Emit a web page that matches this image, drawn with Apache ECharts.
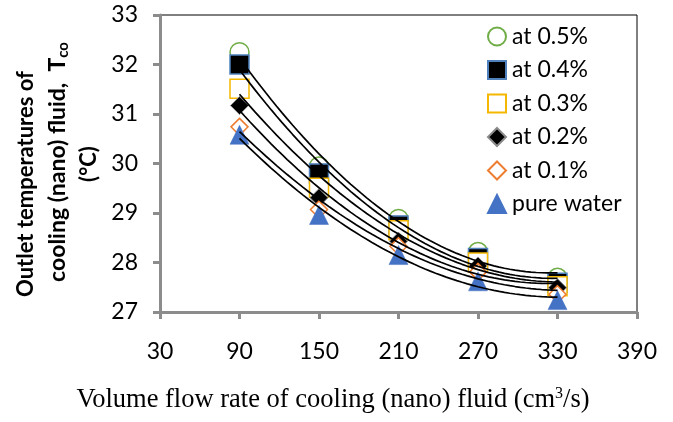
<!DOCTYPE html>
<html>
<head>
<meta charset="utf-8">
<script src="https://cdn.jsdelivr.net/npm/echarts@6/dist/echarts.min.js"></script>
<style>
  html, body { margin: 0; padding: 0; background: #fff; }
  #chart { width: 673px; height: 422px; }
</style>
</head>
<body>
<div id="chart"></div>
<script>
// Volume flow rates (cm3/s)
const flowRates = [90, 150, 210, 270, 330];

// Outlet temperature of the cooling fluid (°C) per concentration
const t05 = [32.25, 29.94, 28.88, 28.21, 27.69];
const t04 = [32.00, 29.80, 28.75, 28.09, 27.59];
const t03 = [31.51, 29.51, 28.65, 28.00, 27.52];
const t02 = [31.17, 29.31, 28.43, 27.93, 27.49];
const t01 = [30.74, 29.07, 28.33, 27.81, 27.36];
const tWater = [30.58, 28.96, 28.15, 27.62, 27.24];

const seriesNames = ['at 0.5%', 'at 0.4%', 'at 0.3%', 'at 0.2%', 'at 0.1%', 'pure water'];
const xTicks = [30, 90, 150, 210, 270, 330, 390];
const yTicks = [27, 28, 29, 30, 31, 32, 33];

const FONT = 'Lato';

// Second-order polynomial least-squares fit, sampled along the data range
function quadTrend(xs, ys, steps) {
  let n = xs.length, sx = 0, sx2 = 0, sx3 = 0, sx4 = 0, sy = 0, sxy = 0, sx2y = 0;
  for (let i = 0; i < n; i++) {
    const x = xs[i], y = ys[i];
    sx += x; sx2 += x * x; sx3 += x * x * x; sx4 += x * x * x * x;
    sy += y; sxy += x * y; sx2y += x * x * y;
  }
  // Solve normal equations with Cramer's rule
  const M = [[n, sx, sx2], [sx, sx2, sx3], [sx2, sx3, sx4]];
  const B = [sy, sxy, sx2y];
  const det = m => m[0][0] * (m[1][1] * m[2][2] - m[1][2] * m[2][1])
    - m[0][1] * (m[1][0] * m[2][2] - m[1][2] * m[2][0])
    + m[0][2] * (m[1][0] * m[2][1] - m[1][1] * m[2][0]);
  const D = det(M);
  const coef = [0, 1, 2].map(c => {
    const m = M.map((row, r) => row.map((v, k) => (k === c ? B[r] : v)));
    return det(m) / D;
  });
  const x0 = xs[0], x1 = xs[xs.length - 1];
  const out = [];
  for (let i = 0; i <= steps; i++) {
    const x = x0 + (x1 - x0) * i / steps;
    out.push([x, coef[0] + coef[1] * x + coef[2] * x * x]);
  }
  return out;
}

const dataSets = [t05, t04, t03, t02, t01, tWater];
const markerStyles = [
  { symbol: 'circle', size: 19, itemStyle: { color: '#ffffff', borderColor: '#70AD47', borderWidth: 1.5 } },
  { symbol: 'rect', size: 19, itemStyle: { color: '#000000', borderColor: '#4F81BD', borderWidth: 1.5 } },
  { symbol: 'rect', size: 19, itemStyle: { color: '#ffffff', borderColor: '#F5B800', borderWidth: 1.5 } },
  { symbol: 'diamond', size: 18, itemStyle: { color: '#000000', borderColor: '#8a8a8a', borderWidth: 1 } },
  { symbol: 'diamond', size: 17, itemStyle: { color: '#ffffff', borderColor: '#ED7D31', borderWidth: 1.5 } },
  { symbol: 'triangle', size: 19, itemStyle: { color: '#4472C4', borderColor: '#4472C4', borderWidth: 0.5 } }
];

const series = [];
dataSets.forEach((ys, i) => {
  const st = markerStyles[i];
  series.push({
    name: seriesNames[i],
    type: 'scatter',
    symbol: st.symbol,
    symbolSize: st.size,
    itemStyle: Object.assign({ opacity: 1 }, st.itemStyle),
    z: 2 + i,
    data: flowRates.map((x, k) => [x, ys[k]])
  });
});
dataSets.forEach((ys, i) => {
  series.push({
    name: 'trend ' + i,
    type: 'line',
    showSymbol: false,
    silent: true,
    smooth: false,
    z: 10,
    lineStyle: { color: '#000000', width: 1.7 },
    data: quadTrend(flowRates, ys, 60)
  });
});

const chart = echarts.init(document.getElementById('chart'), null, { renderer: 'canvas' });
chart.setOption({
  animation: false,
  backgroundColor: '#ffffff',
  grid: {
    left: 160, right: 36, top: 15, bottom: 110,
    show: true, borderColor: '#000000', borderWidth: 1, backgroundColor: 'transparent'
  },
  xAxis: {
    type: 'value',
    min: xTicks[0], max: xTicks[xTicks.length - 1], interval: 60,
    axisLine: { show: true, onZero: false, lineStyle: { color: '#8c8c8c', width: 3 } },
    axisTick: { show: true, length: 7, lineStyle: { color: '#8c8c8c', width: 3 } },
    splitLine: { show: false },
    axisLabel: { color: '#000', fontFamily: FONT, fontSize: 23, margin: 28 }
  },
  yAxis: {
    type: 'value',
    min: yTicks[0], max: yTicks[yTicks.length - 1], interval: 1,
    axisLine: { show: true, onZero: false, lineStyle: { color: '#8c8c8c', width: 3 } },
    axisTick: { show: true, length: 7, lineStyle: { color: '#8c8c8c', width: 3 } },
    splitLine: { show: false },
    axisLabel: { color: '#000', fontFamily: FONT, fontSize: 23, margin: 22 }
  },
  legend: {
    orient: 'vertical',
    left: 482, top: 20,
    itemWidth: 18, itemHeight: 18, itemGap: 10.5,
    data: seriesNames,
    textStyle: { color: '#000', fontFamily: FONT, fontSize: 23, padding: [0, 0, 0, 1] }
  },
  graphic: [
    {
      type: 'text', x: 26, y: 184, rotation: Math.PI / 2,
      style: { text: 'Outlet temperatures of', fontFamily: FONT, fontWeight: 'bold', fontSize: 22,
        fill: '#000', textAlign: 'center', textVerticalAlign: 'middle' }
    },
    {
      type: 'text', x: 58, y: 162, rotation: Math.PI / 2,
      style: {
        text: 'cooling (nano) fluid,  T{sub|co}',
        rich: { sub: { fontFamily: FONT, fontWeight: 'bold', fontSize: 15, padding: [10, 0, 0, 0] } },
        fontFamily: FONT, fontWeight: 'bold', fontSize: 23,
        fill: '#000', textAlign: 'center', textVerticalAlign: 'middle' }
    },
    {
      type: 'text', x: 89, y: 164, rotation: Math.PI / 2,
      style: { text: '(°C)', fontFamily: FONT, fontWeight: 'bold', fontSize: 22,
        fill: '#000', textAlign: 'center', textVerticalAlign: 'middle' }
    },
    {
      type: 'text', x: 333, y: 400,
      style: {
        text: 'Volume flow rate of cooling (nano) fluid (cm{sup|3}/s)',
        rich: { sup: { fontFamily: 'Liberation Serif', fontSize: 16, padding: [0, 0, 12, 0] } },
        fontFamily: 'Liberation Serif', fontSize: 26.5,
        fill: '#000', textAlign: 'center', textVerticalAlign: 'middle' }
    }
  ],
  series: series
});
</script>
</body>
</html>
